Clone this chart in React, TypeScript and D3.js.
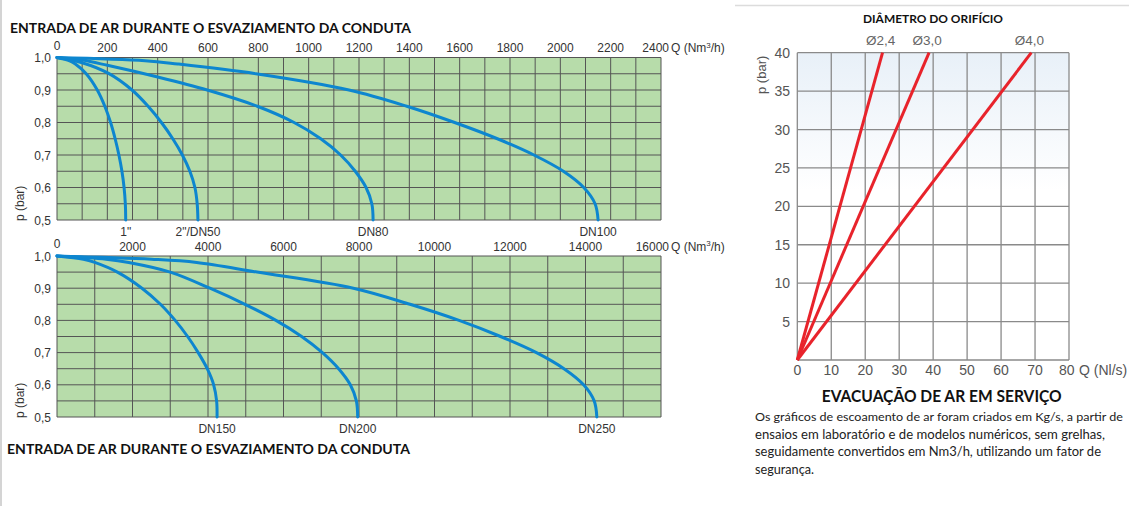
import * as d3 from 'd3';

// ---- data ----
const topQTicks = [0, 200, 400, 600, 800, 1000, 1200, 1400, 1600, 1800, 2000, 2200, 2400];
const bottomQTicks = [0, 2000, 4000, 6000, 8000, 10000, 12000, 14000, 16000];
const pTicks = [1.0, 0.9, 0.8, 0.7, 0.6, 0.5];
const pTickLabels = ['1,0', '0,9', '0,8', '0,7', '0,6', '0,5'];

// [Q (Nm3/h), p (bar)]
const topNames = ['1"', '2"/DN50', 'DN80', 'DN100'];
const curve1in = [[0, 1], [50, 0.99], [73, 0.98], [116, 0.95], [160, 0.9], [190, 0.85], [213, 0.8], [231, 0.75], [246, 0.7], [258, 0.65], [266.5, 0.6], [271.5, 0.55], [273, 0.5]];
const curveDN50 = [[0, 1], [100, 0.984], [205, 0.951], [298, 0.9], [362, 0.85], [415, 0.8], [460, 0.75], [498, 0.7], [528, 0.65], [548, 0.6], [557, 0.55], [560, 0.5]];
const curveDN80 = [[0, 1], [100, 0.992], [200, 0.976], [400, 0.94], [597, 0.9], [796, 0.85], [942, 0.8], [1048, 0.75], [1127, 0.7], [1185, 0.65], [1228, 0.6], [1251, 0.55], [1256, 0.5]];
const curveDN100 = [[0, 1], [350, 0.99], [480, 0.98], [790, 0.95], [1160, 0.9], [1390, 0.85], [1580, 0.8], [1750, 0.75], [1895, 0.7], [2012, 0.65], [2093, 0.6], [2138, 0.55], [2150, 0.5]];

const bottomNames = ['DN150', 'DN200', 'DN250'];
const curveDN150 = [[0, 1], [700, 0.99], [1000, 0.98], [1600, 0.95], [2250, 0.9], [2740, 0.85], [3130, 0.8], [3460, 0.75], [3740, 0.7], [3980, 0.65], [4150, 0.6], [4228, 0.55], [4240, 0.5]];
const curveDN200 = [[0, 1], [1300, 0.99], [1900, 0.98], [3000, 0.95], [4050, 0.9], [4980, 0.85], [5800, 0.8], [6480, 0.75], [7030, 0.7], [7460, 0.65], [7770, 0.6], [7930, 0.55], [7965, 0.5]];
const curveDN250 = [[0, 1], [2500, 0.99], [3700, 0.98], [5300, 0.95], [7850, 0.9], [9350, 0.85], [10650, 0.8], [11750, 0.75], [12700, 0.7], [13430, 0.65], [13950, 0.6], [14230, 0.55], [14300, 0.5]];

// right chart: orifice lines from (0,0) to (Q at 40 bar, 40)
const orificeNames = ['Ø2,4', 'Ø3,0', 'Ø4,0'];
const orificeQAt40 = [25.1, 38.8, 68.9];
const orificeP = [0, 40];
const rightQTicks = [0, 10, 20, 30, 40, 50, 60, 70, 80];
const rightPTicks = [5, 10, 15, 20, 25, 30, 35, 40];

const noteLines = [
  'Os gráficos de escoamento de ar foram criados em Kg/s, a partir de',
  'ensaios em laboratório e de modelos numéricos, sem grelhas,',
  'seguidamente convertidos em Nm3/h, utilizando um fator de',
  'segurança.',
];
const noteLengths = [368, 350, 346, 59];

const SANS = '"Liberation Sans", Arial, sans-serif';
const TITLE = 'Lato, "Open Sans", sans-serif';
const GREEN = '#b7dcaa';
const GRID = '#555';
const BLUE = '#0d86cf';
const RED = '#e8232b';

function PressureChart({ top, bottom, qMax, qStep, ticks, curves, names }) {
  const x = d3.scaleLinear().domain([0, qMax]).range([57, 661]);
  const y = d3.scaleLinear().domain([0.5, 1]).range([bottom, top]);
  const line = d3.line().x(d => x(d[0])).y(d => y(d[1])).curve(d3.curveCatmullRom.alpha(0.5));
  const vLines = d3.range(0, qMax + 1, qStep);
  const hLines = d3.range(0.5, 1.0001, 0.05);
  const last = ticks.length - 1;

  return (
    <g>
      <rect x={x(0)} y={y(1)} width={x(qMax) - x(0)} height={y(0.5) - y(1)} fill={GREEN} />
      {vLines.map(v => (
        <line key={'v' + v} x1={x(v)} x2={x(v)} y1={y(1)} y2={y(0.5)} stroke={GRID} strokeWidth={1} />
      ))}
      {hLines.map(v => (
        <line key={'h' + v} x1={x(0)} x2={x(qMax)} y1={y(v)} y2={y(v)} stroke={GRID} strokeWidth={1} />
      ))}
      {curves.map((c, i) => (
        <path key={'c' + i} d={line(c)} fill="none" stroke={BLUE} strokeWidth={3} strokeLinecap="round" />
      ))}
      {curves.map((c, i) => (
        <text key={'n' + i} x={x(c[c.length - 1][0])} y={bottom + 15.5} textAnchor="middle"
          fontFamily={SANS} fontSize={12} fill="#333">{names[i]}</text>
      ))}
      {ticks.map((t, i) => (
        <text key={'t' + t} x={i === last ? 669 : x(t)} y={top - (i === 0 ? 8 : 5.5)}
          textAnchor={i === last ? 'end' : 'middle'} fontFamily={SANS} fontSize={12} fill="#333">{t}</text>
      ))}
      <text x={671} y={top - 5.5} fontFamily={SANS} fontSize={12} fill="#333">
        Q (Nm<tspan fontSize={8} dy={-4.5}>3</tspan><tspan dy={4.5}>/h)</tspan>
      </text>
      {pTicks.map((p, i) => (
        <text key={'p' + p} x={51} y={y(p) + 4.5} textAnchor="end" fontFamily={SANS} fontSize={12} fill="#333">{pTickLabels[i]}</text>
      ))}
      <text transform={`translate(24,${bottom + 1}) rotate(-90)`} fontFamily={SANS} fontSize={12} fill="#333">p (bar)</text>
    </g>
  );
}

function OrificeChart() {
  const x = d3.scaleLinear().domain([0, 80]).range([797.3, 1069]);
  const y = d3.scaleLinear().domain([0, 40]).range([360, 52.7]);
  const line = d3.line().x(d => x(d[0])).y(d => y(d[1]));
  const grey = '#555';

  return (
    <g>
      <defs>
        <linearGradient id="orifice-bg" x1="0" x2="0" y1="0" y2="1">
          <stop offset="0%" stopColor="#e8f0f8" />
          <stop offset="45%" stopColor="#ffffff" />
        </linearGradient>
      </defs>
      <rect x={x(0)} y={y(40)} width={x(80) - x(0)} height={y(0) - y(40)} fill="url(#orifice-bg)" />
      {rightQTicks.map(q => (
        <line key={'v' + q} x1={x(q)} x2={x(q)} y1={y(0)} y2={y(40)} stroke="#8a8a8a" strokeWidth={1.3} />
      ))}
      {[0, ...rightPTicks].map(p => (
        <line key={'h' + p} x1={x(0)} x2={x(80)} y1={y(p)} y2={y(p)} stroke="#8a8a8a" strokeWidth={1.3} />
      ))}
      {orificeQAt40.map((q, i) => (
        <path key={'o' + i} d={line([[0, orificeP[0]], [q, orificeP[1]]])} fill="none" stroke={RED} strokeWidth={3} />
      ))}
      {orificeQAt40.map((q, i) => (
        <text key={'ol' + i} x={x(q) - 2} y={45} textAnchor="middle" fontFamily={SANS} fontSize={13.5} fill="#666">{orificeNames[i]}</text>
      ))}
      <text x={933} y={23} textAnchor="middle" fontFamily={TITLE} fontWeight="bold" fontSize={11.5}
        textLength={140} lengthAdjust="spacingAndGlyphs" fill="#111">DIÂMETRO DO ORIFÍCIO</text>
      {rightPTicks.map(p => (
        <text key={'p' + p} x={790} y={y(p) + 5} textAnchor="end" fontFamily={SANS} fontSize={14} fill={grey}>{p}</text>
      ))}
      {rightQTicks.map((q, i) => (
        <text key={'q' + q} x={i === rightQTicks.length - 1 ? 1066.7 : x(q)} y={375} textAnchor="middle"
          fontFamily={SANS} fontSize={14} fill={grey}>{q}</text>
      ))}
      <text x={1079} y={375} fontFamily={SANS} fontSize={14} fill={grey}>Q (Nl/s)</text>
      <text transform="translate(765.5,94) rotate(-90)" fontFamily={SANS} fontSize={13} fill={grey}>p (bar)</text>
    </g>
  );
}

export default function App() {
  return (
    <>
      <style>{'body{margin:0}'}</style>
      <svg width={1129} height={506} style={{ display: 'block', background: '#fff' }}>
        <line x1={1} x2={1} y1={0} y2={506} stroke="#d4d4d4" strokeWidth={2} />
        <line x1={735} x2={1129} y1={5.5} y2={5.5} stroke="#dcdcdc" strokeWidth={1.5} />

        <text x={10} y={32.5} fontFamily={TITLE} fontWeight="bold" fontSize={13.5}
          textLength={401} lengthAdjust="spacingAndGlyphs" fill="#111">ENTRADA DE AR DURANTE O ESVAZIAMENTO DA CONDUTA</text>

        <PressureChart top={57.5} bottom={220} qMax={2400} qStep={100} ticks={topQTicks}
          curves={[curve1in, curveDN50, curveDN80, curveDN100]} names={topNames} />
        <PressureChart top={256} bottom={417} qMax={16000} qStep={1000} ticks={bottomQTicks}
          curves={[curveDN150, curveDN200, curveDN250]} names={bottomNames} />

        <text x={7} y={453.5} fontFamily={TITLE} fontWeight="bold" fontSize={13.5}
          textLength={403} lengthAdjust="spacingAndGlyphs" fill="#111">ENTRADA DE AR DURANTE O ESVAZIAMENTO DA CONDUTA</text>

        <OrificeChart />

        <text x={941.7} y={401.5} textAnchor="middle" fontFamily={TITLE} fontWeight="bold" fontSize={17}
          textLength={240} lengthAdjust="spacingAndGlyphs" fill="#111">EVACUAÇÃO DE AR EM SERVIÇO</text>
        {noteLines.map((t, i) => (
          <text key={i} x={755} y={421 + i * 17.5} fontFamily={TITLE} fontSize={i === 0 ? 12.3 : 13}
            textLength={noteLengths[i]} lengthAdjust="spacingAndGlyphs" fill="#222">{t}</text>
        ))}
      </svg>
    </>
  );
}
